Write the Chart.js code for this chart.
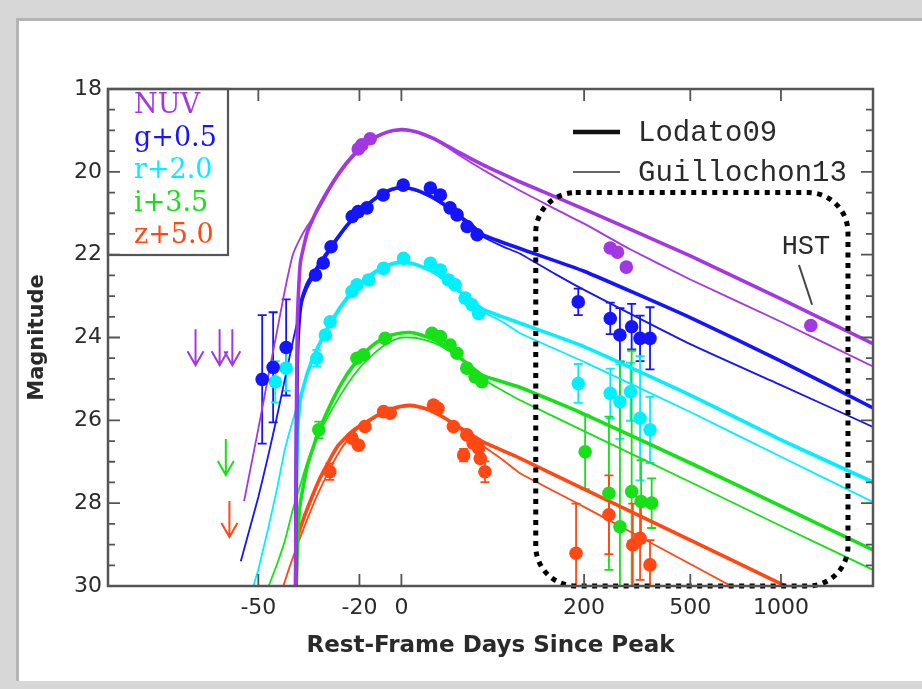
<!DOCTYPE html>
<html>
<head>
<meta charset="utf-8">
<script src="https://cdn.jsdelivr.net/npm/chart.js@4.4.1/dist/chart.umd.min.js"></script>
<style>
  body { margin: 0; background: #d7d7d7; width: 922px; height: 689px; overflow: hidden; position: relative; }
  #painel { position: absolute; left: 16px; top: 18px; width: 906px; height: 663px; background: #fff;
            border-left: 3px solid #b4b4b4; border-top: 3px solid #b4b4b4; box-sizing: border-box; }
  #grafico { position: absolute; left: 0; top: 0; }
</style>
</head>
<body>
<div id="painel"></div>
<canvas id="grafico" width="922" height="689"></canvas>
<script>

// eixo x: log(dias + 80), como no original
var deslocDias = 80;
var diasMin = -69.3, diasMax = 1950;
var diasTicks = [-50, -20, 0, 200, 500, 1000];
var magMin = 18, magMax = 30, magPasso = 2;

var bandas = ['NUV', 'g+0.5', 'r+2.0', 'i+3.5', 'z+5.0'];
var cores = ['#a437e4', '#1414ff', '#00f0ff', '#16e016', '#ff4814'];

// observações (dias desde o pico, magnitude, erro)
var nuvDias = [-20.5, -19.0, -15.4, 255, 272, 294, 1245];
var nuvMag = [19.45, 19.35, 19.2, 21.84, 21.94, 22.3, 23.71];
var nuvErro = [0, 0, 0, 0, 0, 0, 0];

var gDias = [-49.2, -46.8, -43.7, -35.6, -33.2, -30.6, -22.9, -20.5, -16.8, -9.4, 1.0, 17.6, 24.5, 31.7, 37.2, 45.6, 54.5, 189, 255, 278, 308, 331, 360];
var gMag = [25.01, 24.72, 24.24, 22.49, 22.2, 21.81, 21.08, 20.96, 20.87, 20.56, 20.32, 20.39, 20.56, 20.87, 21.04, 21.32, 21.52, 23.14, 23.54, 23.94, 23.74, 24.02, 24.02];
var gErro = [1.55, 1.33, 1.16, 0.1, 0, 0, 0, 0, 0, 0, 0, 0, 0, 0, 0, 0, 0, 0.32, 0.38, 0.65, 0.55, 0.55, 0.75];

var rDias = [-46.3, -43.7, -35.2, -32.5, -30.9, -23.0, -21.0, -16.1, -9.2, 1.2, 17.6, 24.5, 30.5, 35.7, 43.9, 49.8, 55.8, 189, 255, 278, 305, 331, 360];
var rMag = [25.07, 24.74, 24.5, 23.94, 23.62, 22.89, 22.73, 22.61, 22.33, 22.09, 22.21, 22.37, 22.61, 22.73, 23.05, 23.21, 23.42, 25.11, 25.35, 25.55, 25.31, 25.95, 26.23];
var rErro = [0.5, 0.55, 0.2, 0, 0, 0, 0, 0, 0, 0, 0, 0, 0, 0, 0, 0, 0, 0.47, 0.6, 0.9, 0.7, 1.5, 0.8];

var iDias = [-34.6, -21.0, -18.3, -8.4, 18.7, 24.5, 31.7, 37.1, 45.3, 52.6, 58.9, 202, 252, 278, 308, 334, 365];
var iMag = [26.23, 24.5, 24.42, 24.02, 23.9, 23.98, 24.18, 24.38, 24.74, 24.95, 25.07, 26.76, 27.76, 28.57, 27.72, 27.96, 28.0];
var iErro = [0.2, 0, 0, 0, 0, 0, 0, 0, 0, 0, 0, 0.9, 1.85, 4.0, 3.4, 1.0, 0.6];

var zDias = [-31.0, -23.0, -20.4, -17.7, -9.2, -5.9, 19.7, 22.8, 34.3, 42.6, 45.3, 50.8, 55.8, 57.4, 61.9, 185, 252, 311, 331, 360];
var zMag = [27.24, 26.43, 26.6, 26.15, 25.79, 25.83, 25.63, 25.71, 26.15, 26.84, 26.35, 26.55, 26.67, 26.92, 27.24, 29.21, 28.28, 29.01, 28.85, 29.49];
var zErro = [0.2, 0, 0.1, 0, 0, 0, 0, 0, 0, 0.15, 0, 0, 0, 0.1, 0.25, 1.2, 0.95, 1.0, 1.0, 0.6];

// limites superiores (setas)
var limiteDias = [-60.5, -57.0, -54.9, -56.0, -55.4];
var limiteMag = [23.8, 23.8, 23.8, 26.45, 27.95];
var limiteBanda = [0, 0, 0, 3, 4];

// modelos: [dias, magnitude]
var nuvLodato = [[-41.3,30.5],[-41.1,26.5],[-40.8,23.6],[-40,22.2],[-38,21.45],[-35,20.9],[-30,20.25],[-25,19.78],[-20,19.45],[-15,19.22],[-10,19.09],[-5,19.01],[0,18.98],[5,19.0],[10,19.05],[20,19.2],[30,19.38],[40,19.55],[60,19.83],[80,20.05],[100,20.24],[200,20.9],[500,22.03],[1000,23.07],[1950,24.15]];
var nuvGuillochon = [[-52.8,27.95],[-50,26.2],[-48,25.0],[-46,23.9],[-44,22.85],[-42,22.0],[-40,21.6],[-38,21.3],[-35,20.95],[-30,20.3],[-25,19.82],[-20,19.48],[-15,19.25],[-10,19.1],[-5,19.02],[0,18.99],[5,19.0],[10,19.06],[20,19.22],[30,19.42],[40,19.62],[60,19.95],[80,20.22],[100,20.45],[150,20.9],[200,21.25],[300,21.85],[500,22.6],[1000,23.62],[1950,24.7]];

var gLodato = [[-41.3,31],[-41.1,27],[-40.8,24.6],[-40.3,23.6],[-39.5,23.05],[-38,22.7],[-35,22.3],[-30,21.75],[-25,21.3],[-20,20.97],[-15,20.72],[-10,20.53],[-5,20.42],[0,20.38],[5,20.4],[10,20.46],[20,20.63],[30,20.85],[40,21.08],[50,21.3],[60,21.52],[100,21.85],[200,22.4],[500,23.52],[1000,24.57],[1950,25.7]];
var gGuillochon = [[-53.4,29.4],[-50,27.85],[-48,26.9],[-46,25.95],[-44,25.0],[-42,24.1],[-40,23.3],[-38,22.8],[-35,22.38],[-30,21.8],[-25,21.33],[-20,21.0],[-15,20.75],[-10,20.56],[-5,20.44],[0,20.4],[5,20.42],[10,20.48],[20,20.66],[30,20.88],[40,21.12],[50,21.35],[60,21.57],[80,21.8],[100,21.97],[150,22.47],[200,22.85],[500,24.16],[1000,25.15],[1950,26.16]];

var rLodato = [[-41.3,31],[-41.1,28],[-40.7,26.2],[-40,25.5],[-38,24.85],[-35,24.25],[-30,23.55],[-25,23.05],[-20,22.72],[-15,22.48],[-10,22.32],[-5,22.22],[0,22.18],[5,22.2],[10,22.26],[20,22.42],[30,22.65],[40,22.9],[50,23.12],[60,23.32],[100,23.65],[200,24.22],[500,25.39],[1000,26.47],[1950,27.49]];
var rGuillochon = [[-51,30],[-50,29.6],[-48,28.65],[-46,27.7],[-44,26.7],[-42,26.0],[-40,25.4],[-38,24.9],[-35,24.3],[-30,23.6],[-25,23.1],[-20,22.78],[-15,22.52],[-10,22.35],[-5,22.25],[0,22.2],[5,22.22],[10,22.28],[20,22.45],[30,22.68],[40,22.93],[50,23.18],[60,23.38],[80,23.62],[100,23.89],[200,24.59],[500,25.8],[1000,26.88],[1950,27.97]];

var iLodato = [[-41.3,31],[-41.1,30],[-40.7,28.8],[-40,28.0],[-38,27.1],[-35,26.35],[-30,25.5],[-25,24.9],[-20,24.5],[-15,24.22],[-10,24.04],[-5,23.94],[0,23.89],[5,23.88],[10,23.92],[20,24.05],[30,24.25],[40,24.5],[50,24.73],[60,24.92],[100,25.2],[200,25.85],[500,27.03],[1000,28.07],[1950,29.13]];
var iGuillochon = [[-47.8,30],[-46,29.5],[-44,28.9],[-42,28.16],[-40,27.56],[-38,27.0],[-35,26.4],[-30,25.7],[-25,25.15],[-20,24.74],[-15,24.45],[-10,24.23],[-5,24.08],[0,24.0],[5,24.0],[10,24.02],[20,24.13],[30,24.3],[40,24.5],[50,24.72],[60,25.0],[80,25.28],[100,25.51],[200,26.26],[500,27.49],[1000,28.55],[1950,29.61]];

var zLodato = [[-41.3,31],[-41.1,29.8],[-40.9,28.9],[-40,28.6],[-37.8,28.08],[-34,27.36],[-28.5,26.64],[-22.3,26.23],[-15,25.97],[-10,25.82],[-5,25.72],[0,25.66],[5,25.64],[10,25.67],[15,25.72],[20,25.8],[28,25.95],[35,26.1],[45,26.27],[60,26.52],[100,26.91],[200,27.66],[500,28.89],[1000,29.95],[1950,31.0]];
var zGuillochon = [[-44.4,30],[-42.7,29.5],[-40,28.82],[-35.7,27.92],[-31.2,27.2],[-27.4,26.72],[-22.3,26.28],[-15,25.99],[-10,25.84],[-5,25.74],[0,25.68],[5,25.66],[10,25.69],[20,25.82],[30,26.0],[45,26.33],[60,26.62],[80,26.95],[100,27.27],[200,28.09],[500,29.47],[1000,30.65]];

// caixa pontilhada e rótulo HST (em dias / magnitude)
var caixaDias = [121, 1630];
var caixaMag = [20.5, 30.0];
var hstTexto = [1202, 21.8];
var hstLinha = [[1142, 22.25], [1257, 23.21]];

var observacoes = [
    [nuvDias, nuvMag, nuvErro],
    [gDias, gMag, gErro],
    [rDias, rMag, rErro],
    [iDias, iMag, iErro],
    [zDias, zMag, zErro]
];
var modelos = [
    [nuvLodato, nuvGuillochon],
    [gLodato, gGuillochon],
    [rLodato, rGuillochon],
    [iLodato, iGuillochon],
    [zLodato, zGuillochon]
];

function pontos(dias, mags) {
    return dias.map(function (d, i) { return { x: d + deslocDias, y: mags[i] }; });
}

function curva(pares) {
    return pares.map(function (p) { return { x: p[0] + deslocDias, y: p[1] }; });
}

var datasets = [];

for (let b = 0; b < bandas.length; b++) {
    datasets.push({
        label: bandas[b],
        data: pontos(observacoes[b][0], observacoes[b][1]),
        backgroundColor: cores[b],
        borderWidth: 0,
        pointRadius: 6.8,
        order: 0,
        clip: 2
    });
}

for (let b = 0; b < bandas.length; b++) {
    datasets.push({
        label: bandas[b] + ' Lodato09',
        data: curva(modelos[b][0]),
        showLine: true,
        borderColor: cores[b],
        borderWidth: 3.6,
        pointRadius: 0,
        tension: 0.15,
        order: 1,
        clip: 0
    });
    datasets.push({
        label: bandas[b] + ' Guillochon13',
        data: curva(modelos[b][1]),
        showLine: true,
        borderColor: cores[b],
        borderWidth: 1.8,
        pointRadius: 0,
        tension: 0.15,
        order: 2,
        clip: 0
    });
}

var moldura = {
    id: 'moldura',
    beforeDatasetsDraw: function (chart) {
        const ctx = chart.ctx;
        const a = chart.chartArea;
        const xs = chart.scales.x, ys = chart.scales.y;
        ctx.save();
        ctx.beginPath();
        ctx.rect(a.left, a.top, a.right - a.left, a.bottom - a.top);
        ctx.clip();

        // barras de erro
        ctx.lineWidth = 1.8;
        for (let b = 0; b < observacoes.length; b++) {
            ctx.strokeStyle = cores[b];
            const dias = observacoes[b][0], mags = observacoes[b][1], erros = observacoes[b][2];
            for (let i = 0; i < dias.length; i++) {
                if (!erros[i]) continue;
                const x = xs.getPixelForValue(dias[i] + deslocDias);
                const y1 = ys.getPixelForValue(mags[i] - erros[i]);
                const y2 = ys.getPixelForValue(mags[i] + erros[i]);
                ctx.beginPath();
                ctx.moveTo(x, y1); ctx.lineTo(x, y2);
                ctx.moveTo(x - 4.5, y1); ctx.lineTo(x + 4.5, y1);
                ctx.moveTo(x - 4.5, y2); ctx.lineTo(x + 4.5, y2);
                ctx.stroke();
            }
        }

        // setas de limite superior
        ctx.lineWidth = 2;
        for (let i = 0; i < limiteDias.length; i++) {
            const x = xs.getPixelForValue(limiteDias[i] + deslocDias);
            const y0 = ys.getPixelForValue(limiteMag[i]);
            const y1 = y0 + 36;
            ctx.strokeStyle = cores[limiteBanda[i]];
            ctx.beginPath();
            ctx.moveTo(x, y0); ctx.lineTo(x, y1);
            ctx.moveTo(x - 8, y1 - 14); ctx.lineTo(x, y1); ctx.lineTo(x + 8, y1 - 14);
            ctx.stroke();
        }
        ctx.restore();
    },
    afterDraw: function (chart) {
        const ctx = chart.ctx;
        const a = chart.chartArea;
        const xs = chart.scales.x, ys = chart.scales.y;
        ctx.save();

        // caixa pontilhada
        const bx1 = xs.getPixelForValue(caixaDias[0] + deslocDias);
        const bx2 = xs.getPixelForValue(caixaDias[1] + deslocDias);
        const by1 = ys.getPixelForValue(caixaMag[0]);
        const by2 = ys.getPixelForValue(caixaMag[1]);
        ctx.strokeStyle = '#000';
        ctx.lineWidth = 5;
        ctx.setLineDash([5, 5.5]);
        ctx.beginPath();
        ctx.roundRect(bx1, by1, bx2 - bx1, by2 - by1, 40);
        ctx.stroke();
        ctx.setLineDash([]);

        // moldura e ticks para dentro
        ctx.strokeStyle = '#555';
        ctx.lineWidth = 2.5;
        ctx.strokeRect(a.left, a.top, a.right - a.left, a.bottom - a.top);
        ctx.lineWidth = 1.8;
        ctx.beginPath();
        for (let m = magMin; m <= magMax; m += 0.5) {
            const y = ys.getPixelForValue(m);
            const len = (m % magPasso === 0) ? 12 : 7;
            ctx.moveTo(a.left, y); ctx.lineTo(a.left + len, y);
            ctx.moveTo(a.right, y); ctx.lineTo(a.right - len, y);
        }
        for (let i = 0; i < diasTicks.length; i++) {
            const x = xs.getPixelForValue(diasTicks[i] + deslocDias);
            ctx.moveTo(x, a.top); ctx.lineTo(x, a.top + 12);
            ctx.moveTo(x, a.bottom); ctx.lineTo(x, a.bottom - 12);
        }
        ctx.stroke();

        // legenda das bandas
        ctx.lineWidth = 2.2;
        ctx.strokeStyle = '#555';
        ctx.strokeRect(a.left, a.top, 120, 166);
        ctx.font = '27px "DejaVu Serif"';
        ctx.textBaseline = 'middle';
        ctx.textAlign = 'left';
        for (let b = 0; b < bandas.length; b++) {
            ctx.fillStyle = cores[b];
            ctx.fillText(bandas[b], a.left + 26, a.top + 17 + b * 32.5);
        }

        // legenda dos modelos
        ctx.strokeStyle = '#111';
        ctx.lineWidth = 4.5;
        ctx.beginPath();
        ctx.moveTo(a.left + 465, a.top + 43); ctx.lineTo(a.left + 512, a.top + 43);
        ctx.stroke();
        ctx.strokeStyle = '#666';
        ctx.lineWidth = 2;
        ctx.beginPath();
        ctx.moveTo(a.left + 465, a.top + 83); ctx.lineTo(a.left + 512, a.top + 83);
        ctx.stroke();
        ctx.fillStyle = '#2a2a2a';
        ctx.font = '29px "Liberation Mono"';
        ctx.fillText('Lodato09', a.left + 530, a.top + 44);
        ctx.fillText('Guillochon13', a.left + 530, a.top + 84);

        // HST
        ctx.font = '27px "Liberation Mono"';
        ctx.textAlign = 'center';
        ctx.fillText('HST', xs.getPixelForValue(hstTexto[0] + deslocDias), ys.getPixelForValue(hstTexto[1]));
        ctx.strokeStyle = '#444';
        ctx.lineWidth = 2;
        ctx.beginPath();
        ctx.moveTo(xs.getPixelForValue(hstLinha[0][0] + deslocDias), ys.getPixelForValue(hstLinha[0][1]));
        ctx.lineTo(xs.getPixelForValue(hstLinha[1][0] + deslocDias), ys.getPixelForValue(hstLinha[1][1]));
        ctx.stroke();

        ctx.restore();
    }
};

const config = {
    type: 'scatter',
    data: { datasets: datasets },
    options: {
        responsive: false,
        animation: false,
        events: [],
        layout: { padding: { left: 0, top: 89, right: 49, bottom: 0 } },
        plugins: { legend: { display: false }, tooltip: { enabled: false } },
        scales: {
            x: {
                type: 'logarithmic',
                min: diasMin + deslocDias,
                max: diasMax + deslocDias,
                grid: { display: false, drawTicks: false },
                border: { display: false },
                afterBuildTicks: function (scale) {
                    scale.ticks = diasTicks.map(function (d) { return { value: d + deslocDias }; });
                },
                afterFit: function (scale) { scale.height = 103; },
                ticks: {
                    autoSkip: false,
                    maxRotation: 0,
                    padding: 9,
                    color: '#2a2a2a',
                    font: { family: 'DejaVu Sans', size: 22 },
                    callback: function (v) { return String(Math.round(v - deslocDias)); }
                },
                title: {
                    display: true,
                    text: 'Rest-Frame Days Since Peak',
                    color: '#2a2a2a',
                    font: { family: 'DejaVu Sans', size: 23, weight: 'bold' },
                    padding: { top: 0, bottom: 29 }
                }
            },
            y: {
                type: 'linear',
                reverse: true,
                min: magMin,
                max: magMax,
                grid: { display: false, drawTicks: false },
                border: { display: false },
                afterFit: function (scale) { scale.width = 108; },
                ticks: {
                    stepSize: magPasso,
                    padding: 6,
                    color: '#2a2a2a',
                    font: { family: 'DejaVu Sans', size: 22 }
                },
                title: {
                    display: true,
                    text: 'Magnitude',
                    color: '#2a2a2a',
                    font: { family: 'DejaVu Sans', size: 21, weight: 'bold' },
                    padding: { top: 25, bottom: 0 }
                }
            }
        }
    },
    plugins: [moldura]
};

const grafico = new Chart(document.getElementById('grafico'), config);

</script>
</body>
</html>
